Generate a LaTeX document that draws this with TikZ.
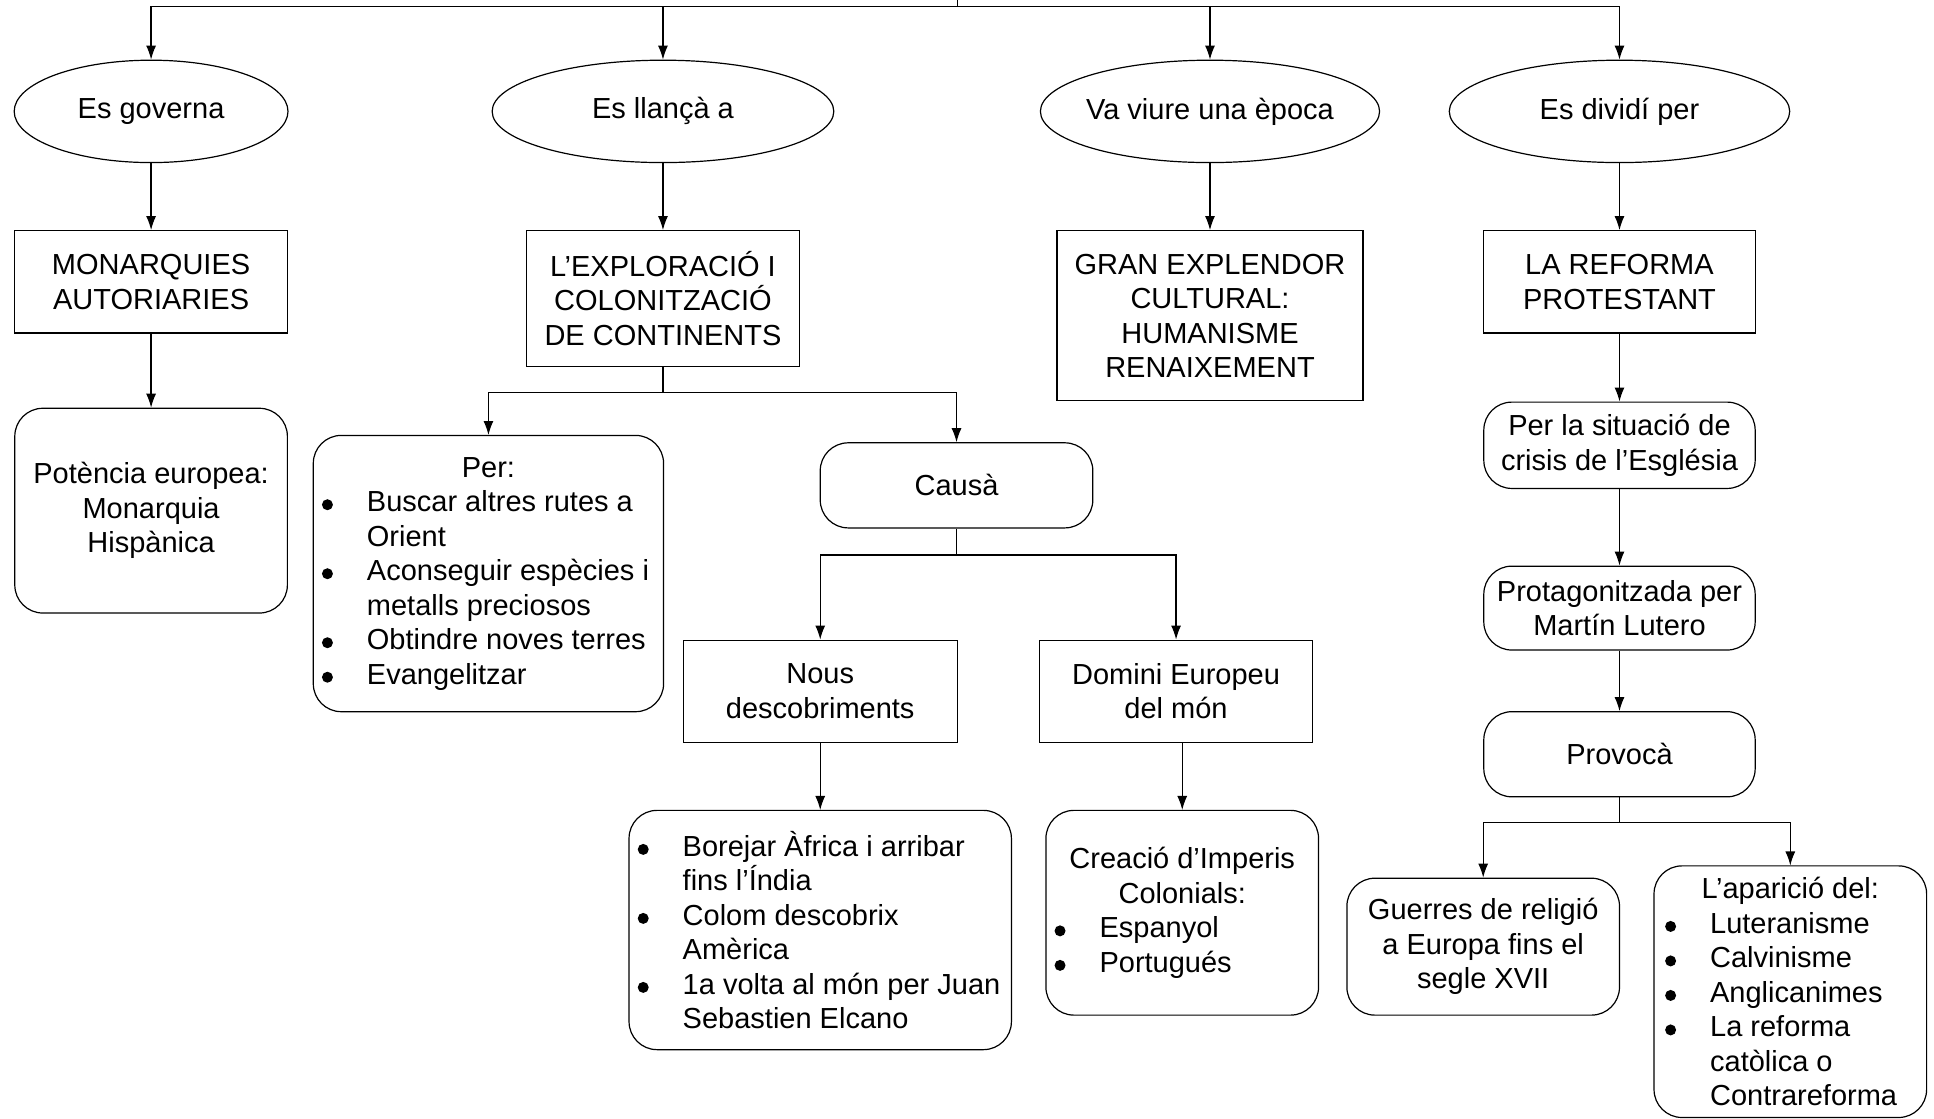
\documentclass[tikz,border=0pt]{standalone}
\usepackage{fontspec}
\setmainfont{Liberation Sans}
\usetikzlibrary{shapes.geometric,arrows.meta}
\newdimen\ux \ux=0.6167pt
\newdimen\lw \lw=100pt
\newcommand\bdot{\makebox[22.5pt][l]{\tikz[baseline=0pt]\fill (2.75pt,3.4pt) circle (2.75pt);}}
\newcommand\bitem[1]{\makebox[\lw][l]{\bdot#1}}
\newcommand\bcont[1]{\makebox[\lw][l]{\hspace*{22.5pt}#1}}
\tikzset{
  elli/.style={draw, ellipse, inner sep=0pt, inner xsep=-8pt},
  rect/.style={draw, rectangle, align=center, inner sep=2pt},
  rnd/.style={draw, rectangle, rounded corners=14pt, align=center, inner sep=2pt},
  lst/.style={rnd, execute at begin node={\lw=#1}},
}
\begin{document}
\begin{tikzpicture}[x=\ux, y={-0.6167pt}, >={Latex[length=7pt,width=5pt]}, line width=0.6pt,
        font=\fontsize{14.5}{17.25}\selectfont]
        \useasboundingbox (0,0) rectangle (1568,907);
        \node[elli, minimum width=222\ux, minimum height=83\ux] (gov) at (122.5,90.3) {Es governa};
        \node[elli, minimum width=277\ux, minimum height=83\ux] (llan) at (537.5,90.3) {Es llançà a};
        \node[elli, minimum width=275\ux, minimum height=83\ux] (epoca) at (981,90.3) {Va viure una època};
        \node[elli, minimum width=276\ux, minimum height=83\ux] (divid) at (1313,90.3) {Es dividí per};
        \node[rect, minimum width=221\ux, minimum height=83\ux] (monar) at (122.5,228.5) {MONARQUIES\\AUTORIARIES};
        \node[rect, minimum width=221\ux, minimum height=110\ux] (explo) at (537.5,242) {L’EXPLORACIÓ I\\COLONITZACIÓ\\DE CONTINENTS};
        \node[rect, minimum width=248\ux, minimum height=138\ux] (gran) at (981,256) {GRAN EXPLENDOR\\CULTURAL:\\HUMANISME\\RENAIXEMENT};
        \node[rect, minimum width=220\ux, minimum height=83\ux] (reform) at (1313,228.5) {LA REFORMA\\PROTESTANT};
        \node[rnd, minimum width=221\ux, minimum height=166\ux] (poten) at (122.5,414) {Potència europea:\\Monarquia\\Hispànica};
        \node[lst=166.5pt, minimum width=284\ux, minimum height=224\ux] (per) at (396,465) {Per:\\
            \bitem{Buscar altres rutes a}\\ \bcont{Orient}\\
            \bitem{Aconseguir espècies i}\\ \bcont{metalls preciosos}\\
            \bitem{Obtindre noves terres}\\
            \bitem{Evangelitzar}};
        \node[rnd, minimum width=221\ux, minimum height=69\ux] (causa) at (775.5,393.5) {Causà};
        \node[rect, minimum width=222\ux, minimum height=83\ux] (nous) at (665,560.5) {Nous\\descobriments};
        \node[rect, minimum width=221\ux, minimum height=83\ux] (domini) at (953.5,560.5) {Domini Europeu\\del món};
        \node[lst=182.5pt, minimum width=310\ux, minimum height=194\ux] (borej) at (665,754) {%
            \bitem{Borejar Àfrica i arribar}\\ \bcont{fins l’Índia}\\
            \bitem{Colom descobrix}\\ \bcont{Amèrica}\\
            \bitem{1a volta al món per Juan}\\ \bcont{Sebastien Elcano}};
        \node[lst=127.7pt, minimum width=221\ux, minimum height=166\ux] (creac) at (958.5,740) {Creació d’Imperis\\Colonials:\\
            \bitem{Espanyol}\\
            \bitem{Portugués}};
        \node[rnd, minimum width=220\ux, minimum height=70\ux] (situ) at (1313,361) {Per la situació de\\crisis de l’Església};
        \node[rnd, minimum width=220\ux, minimum height=68\ux] (prota) at (1313,493) {Protagonitzada per\\Martín Lutero};
        \node[rnd, minimum width=220\ux, minimum height=69\ux] (provo) at (1313,611.5) {Provocà};
        \node[rnd, minimum width=221\ux, minimum height=111\ux] (guerr) at (1202.5,767.5) {Guerres de religió\\a Europa fins el\\segle XVII};
        \node[lst=125.2pt, minimum width=221\ux, minimum height=204\ux] (apar) at (1451.5,804) {L’aparició del:\\
            \bitem{Luteranisme}\\
            \bitem{Calvinisme}\\
            \bitem{Anglicanimes}\\
            \bitem{La reforma}\\ \bcont{catòlica o}\\ \bcont{Contrareforma}};
        \coordinate (top) at (776,0);
        \coordinate (bus) at (776,5);
        \draw (top) -- (bus);
        \foreach \n in {gov,llan,epoca,divid}
            \draw[->] (bus) -| (\n);
        \draw[->] (gov) -- (monar);
        \draw[->] (monar) -- (poten);
        \draw[->] (llan) -- (explo);
        \draw[->] (epoca) -- (gran);
        \draw[->] (divid) -- (reform);
        \draw[->] (reform) -- (situ);
        \draw[->] (situ) -- (prota);
        \draw[->] (prota) -- (provo);
        \coordinate (jx) at (537.5,318);
        \draw (explo) -- (jx);
        \draw[->] (jx) -| (per);
        \draw[->] (jx) -| (causa);
        \coordinate (jc) at (775.5,450);
        \draw (causa) -- (jc);
        \draw[->] (jc) -| (nous);
        \draw[->] (jc) -| (domini);
        \draw[->] (nous) -- (borej);
        \draw[->] (creac |- domini.south) -- (creac);
        \coordinate (jp) at (1313,667);
        \draw (provo) -- (jp);
        \draw[->] (jp) -| (guerr);
        \draw[->] (jp) -| (apar);
\end{tikzpicture}
\end{document}
